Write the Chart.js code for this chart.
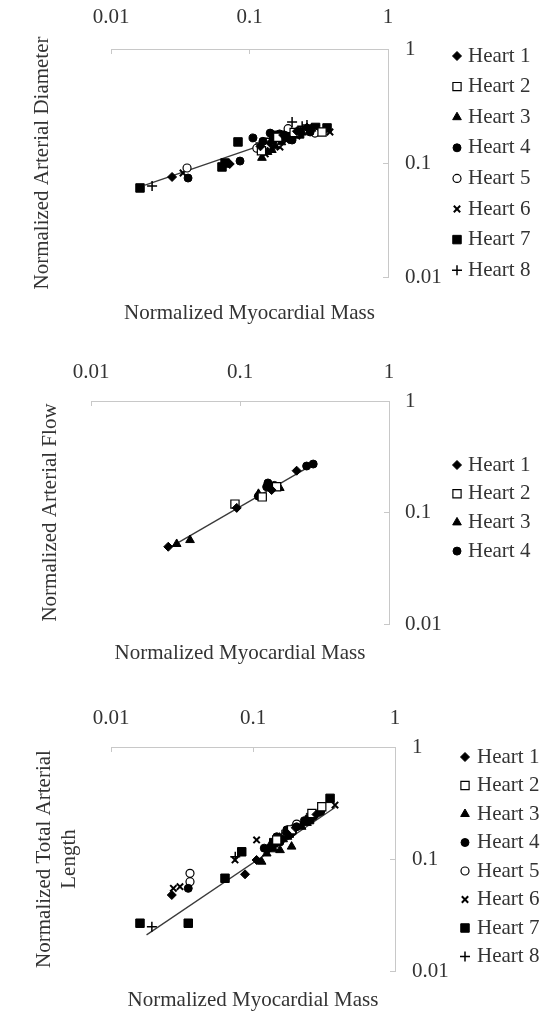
<!DOCTYPE html>
<html><head><meta charset="utf-8">
<script src="https://cdn.jsdelivr.net/npm/chart.js@4.4.1/dist/chart.umd.min.js"></script>
<style>
html,body{margin:0;padding:0;background:#fff;}
body{width:547px;height:1011px;position:relative;overflow:hidden;}
canvas{position:absolute;left:0;}
</style></head><body>
<canvas id="c1"></canvas><canvas id="c2"></canvas><canvas id="c3"></canvas>
<script>
// ---------- data ----------
const heartLabels = ['Heart 1','Heart 2','Heart 3','Heart 4','Heart 5','Heart 6','Heart 7','Heart 8'];
const tickVals   = [0.01, 0.1, 1];
const tickLabels = ['0.01', '0.1', '1'];
const xTitle = 'Normalized Myocardial Mass';
const yTitle1 = 'Normalized Arterial Diameter';
const yTitle2 = 'Normalized Arterial Flow';
const yTitle3 = ['Normalized Total Arterial', 'Length'];

// Panel 1: arterial diameter  [mass, diameter]
const diam_h1 = [[0.0276,0.0754],[0.072,0.098],[0.141,0.150],[0.175,0.176],[0.22,0.19],[0.26,0.205],[0.12,0.14],[0.19,0.165]];
const diam_h2 = [[0.334,0.187],[0.16,0.168],[0.122,0.128],[0.21,0.185]];
const diam_h3 = [[0.123,0.111],[0.153,0.140],[0.196,0.168],[0.24,0.185],[0.17,0.152],[0.135,0.125],[0.145,0.13],[0.21,0.175],[0.28,0.2]];
const diam_h4 = [[0.036,0.0738],[0.0854,0.104],[0.106,0.166],[0.141,0.183],[0.203,0.159],[0.274,0.187],[0.15,0.16],[0.18,0.175],[0.125,0.155],[0.23,0.19],[0.165,0.18]];
const diam_h5 = [[0.0354,0.0904],[0.113,0.135],[0.297,0.183],[0.19,0.2],[0.16,0.15]];
const diam_h6 = [[0.0331,0.0817],[0.381,0.187],[0.166,0.138],[0.22,0.172],[0.13,0.12],[0.185,0.158],[0.27,0.195]];
const diam_h7 = [[0.0162,0.0604],[0.0633,0.0923],[0.0666,0.100],[0.0826,0.153],[0.363,0.203],[0.18,0.17],[0.23,0.18],[0.155,0.175],[0.3,0.205]];
const diam_h8 = [[0.0198,0.0628],[0.203,0.229],[0.26,0.215],[0.12,0.15],[0.14,0.165],[0.24,0.21]];
const diam_trend = [[0.0176,0.0641],[0.323,0.215]];

// Panel 2: arterial flow  [mass, flow]
const flow_h1 = [[0.033,0.0493],[0.0951,0.110],[0.163,0.159],[0.240,0.237]];
const flow_h2 = [[0.0925,0.119],[0.141,0.138],[0.176,0.170]];
const flow_h3 = [[0.0376,0.0522],[0.0462,0.0566],[0.133,0.147],[0.185,0.166]];
const flow_h4 = [[0.151,0.170],[0.154,0.184],[0.280,0.261],[0.310,0.272],[0.133,0.140],[0.170,0.175]];
const flow_trend = [[0.033,0.0477],[0.318,0.276]];

// Panel 3: total arterial length  [mass, length]
const len_h1 = [[0.0268,0.0477],[0.0879,0.073],[0.106,0.098],[0.173,0.170],[0.239,0.223],[0.13,0.125],[0.2,0.19],[0.28,0.25]];
const len_h2 = [[0.305,0.293],[0.187,0.182],[0.147,0.148],[0.26,0.255]];
const len_h3 = [[0.115,0.0946],[0.155,0.120],[0.187,0.129],[0.220,0.194],[0.163,0.150],[0.132,0.133],[0.14,0.122],[0.175,0.158],[0.24,0.21],[0.125,0.112]];
const len_h4 = [[0.035,0.0547],[0.147,0.158],[0.203,0.194],[0.266,0.239],[0.173,0.182],[0.12,0.125],[0.155,0.142],[0.19,0.175],[0.23,0.22],[0.3,0.265]];
const len_h5 = [[0.036,0.0745],[0.036,0.0627],[0.203,0.205],[0.17,0.165]];
const len_h6 = [[0.0275,0.0547],[0.0306,0.0566],[0.0747,0.098],[0.106,0.148],[0.378,0.303],[0.25,0.24],[0.16,0.16],[0.21,0.2]];
const len_h7 = [[0.016,0.0267],[0.035,0.0267],[0.0635,0.0673],[0.0833,0.116],[0.349,0.348],[0.14,0.14],[0.18,0.17],[0.25,0.225]];
const len_h8 = [[0.0194,0.0249],[0.075,0.105],[0.296,0.264],[0.16,0.165],[0.2,0.2],[0.135,0.13]];
const len_trend = [[0.0178,0.021],[0.38,0.29]];

// ---------- styling ----------
const FONT = 'Liberation Serif';
const TXT = '#333';
const AXIS = '#c8c8c8';
Chart.defaults.font.family = FONT;
Chart.defaults.color = TXT;

const markerStyles = [
  {pointStyle:'rectRot',  r:4.5, bg:'#000', bw:1},
  {pointStyle:'rect',     r:5.8, bg:'#fff', bw:1.2},
  {pointStyle:'triangle', r:5,   bg:'#000', bw:1},
  {pointStyle:'circle',   r:4,   bg:'#000', bw:1},
  {pointStyle:'circle',   r:4,   bg:'#fff', bw:1.2},
  {pointStyle:'crossRot', r:4.5, bg:'#000', bw:2},
  {pointStyle:'rect',     r:6,   bg:'#000', bw:1},
  {pointStyle:'cross',    r:5,   bg:'#000', bw:1.5}
];

const sideLegend = {
  id: 'sideLegend',
  afterDraw(chart, args, o) {
    const ctx = chart.ctx;
    ctx.save();
    ctx.font = '21px "' + FONT + '"';
    ctx.textBaseline = 'middle';
    ctx.textAlign = 'left';
    let i = 0;
    chart.data.datasets.forEach(ds => {
      if (ds.isTrend) return;
      const y = o.y0 + i * o.dy;
      ctx.fillStyle = ds.pointBackgroundColor;
      ctx.strokeStyle = ds.pointBorderColor;
      ctx.lineWidth = ds.pointBorderWidth;
      Chart.helpers.drawPoint(ctx, {pointStyle: ds.pointStyle, radius: ds.pointRadius, rotation: 0, borderWidth: ds.pointBorderWidth}, o.mx, y);
      ctx.fillStyle = TXT;
      ctx.fillText(ds.label, o.tx, y);
      i++;
    });
    ctx.restore();
  }
};

function toXY(arr) { return arr.map(p => ({x: p[0], y: p[1]})); }

function makePanel(id, L, series, trend, yTitle) {
  const cv = document.getElementById(id);
  cv.width = 547; cv.height = L.h;
  cv.style.top = L.top + 'px';
  cv.style.width = '547px'; cv.style.height = L.h + 'px';
  const datasets = series.map((s, i) => {
    const m = markerStyles[i];
    return {
      label: heartLabels[i], data: toXY(s),
      pointStyle: m.pointStyle, pointRadius: m.r, pointHoverRadius: m.r,
      pointBackgroundColor: m.bg, pointBorderColor: '#000', pointBorderWidth: m.bw,
      showLine: false
    };
  });
  datasets.push({
    label: 'trend', isTrend: true, data: toXY(trend), showLine: true,
    borderColor: '#3a3a3a', borderWidth: 1.3, pointRadius: 0, fill: false
  });
  const tickFont = {family: FONT, size: 21};
  const setTicks = s => { s.ticks = tickVals.map(v => ({value: v})); };
  new Chart(cv, {
    type: 'scatter',
    data: {datasets},
    options: {
      responsive: false, animation: false, devicePixelRatio: 1,
      layout: {padding: 0},
      plugins: {legend: {display: false}, tooltip: {enabled: false}, sideLegend: L.legend},
      scales: {
        x: {
          type: 'logarithmic', position: 'top', min: 0.01, max: 1,
          afterBuildTicks: setTicks,
          afterFit: s => { s.height = L.area.t; },
          ticks: {callback: (v, i) => tickLabels[i], padding: L.topPad, font: tickFont, color: TXT, maxRotation: 0, autoSkip: false},
          grid: {display: true, drawOnChartArea: false, drawTicks: true, tickLength: -5, color: AXIS},
          border: {display: true, color: AXIS, width: 1}
        },
        y: {
          type: 'logarithmic', position: 'right', min: 0.01, max: 1,
          afterBuildTicks: setTicks,
          afterFit: s => { s.width = 547 - L.area.r; },
          ticks: {callback: (v, i) => tickLabels[i], padding: L.rightPad, font: tickFont, color: TXT, crossAlign: 'near', autoSkip: false},
          grid: {display: true, drawOnChartArea: false, drawTicks: true, tickLength: -5, color: AXIS},
          border: {display: true, color: AXIS, width: 1}
        },
        x2: {
          type: 'linear', position: 'bottom', display: true,
          ticks: {display: false}, grid: {display: false}, border: {display: false},
          afterFit: s => { s.height = L.h - L.area.b; },
          title: {display: true, text: xTitle, color: TXT, font: {family: FONT, size: 21, lineHeight: 1}, padding: {top: 0, bottom: L.xTitlePad}}
        },
        y2: {
          type: 'linear', position: 'left', display: true,
          ticks: {display: false}, grid: {display: false}, border: {display: false},
          afterFit: s => { s.width = L.area.l; },
          title: {display: true, text: yTitle, color: TXT, font: {family: FONT, size: 21, lineHeight: 1.2}, padding: {top: L.yTitlePad, bottom: 0}}
        }
      }
    },
    plugins: [sideLegend]
  });
}

makePanel('c1',
  {top: 0, h: 330, area: {l: 111, r: 388, t: 49, b: 277}, topPad: 24.4, rightPad: 22, xTitlePad: 6.5, yTitlePad: 29.4,
   legend: {mx: 457, tx: 468, y0: 56, dy: 30.6}},
  [diam_h1, diam_h2, diam_h3, diam_h4, diam_h5, diam_h6, diam_h7, diam_h8], diam_trend, yTitle1);

makePanel('c2',
  {top: 335, h: 335, area: {l: 91, r: 389, t: 66, b: 289}, topPad: 21.4, rightPad: 21, xTitlePad: 6.5, yTitlePad: 37.4,
   legend: {mx: 457, tx: 468, y0: 130, dy: 28.7}},
  [flow_h1, flow_h2, flow_h3, flow_h4], flow_trend, yTitle2);

makePanel('c3',
  {top: 670, h: 341, area: {l: 111, r: 395, t: 77, b: 301}, topPad: 21.4, rightPad: 22, xTitlePad: 0.5, yTitlePad: 31.4,
   legend: {mx: 465, tx: 477, y0: 87, dy: 28.5}},
  [len_h1, len_h2, len_h3, len_h4, len_h5, len_h6, len_h7, len_h8], len_trend, yTitle3);
</script>
</body></html>
